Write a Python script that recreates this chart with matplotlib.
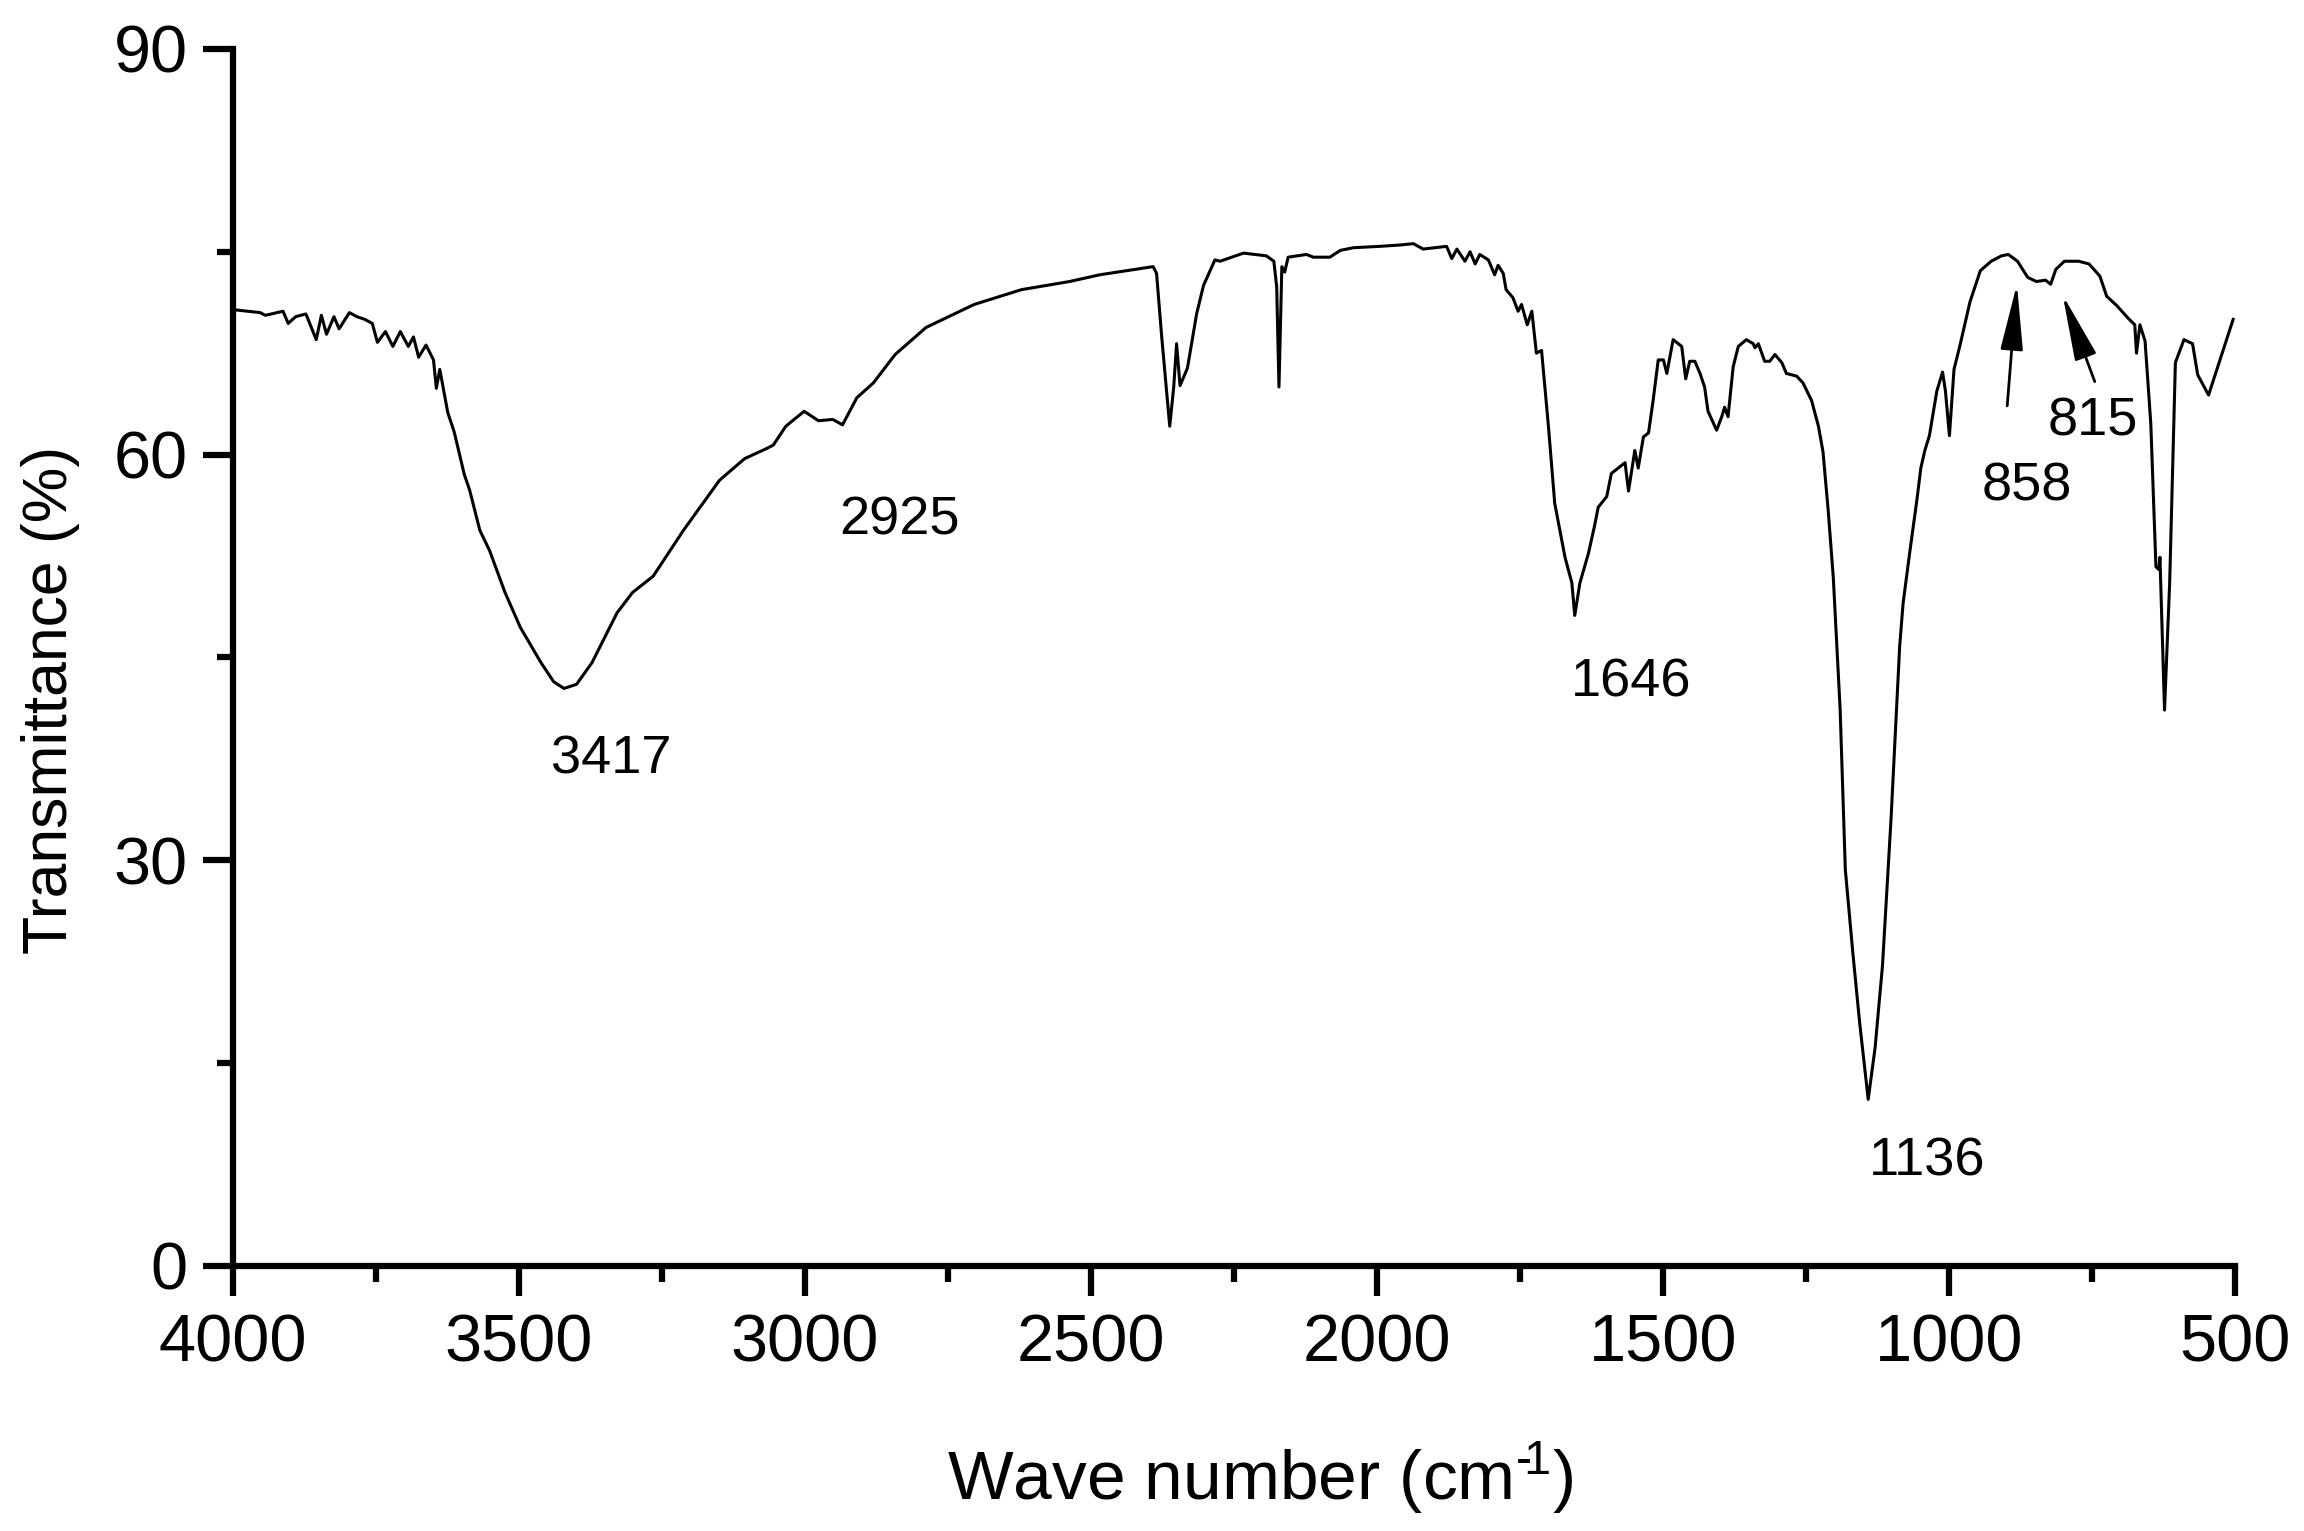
import matplotlib
matplotlib.use('Agg')
import matplotlib.pyplot as plt
from matplotlib.ticker import MultipleLocator

plt.rcParams['font.family'] = ['Liberation Sans', 'DejaVu Sans']
plt.rcParams['mathtext.fontset'] = 'custom'
plt.rcParams['mathtext.rm'] = 'Liberation Sans'
plt.rcParams['mathtext.default'] = 'regular'

# FT-IR spectrum (wave number, transmittance %)
wavenumber = [
    3995, 3952, 3943, 3912, 3903, 3890, 3872, 3854, 3845, 3836, 3823, 3814,
    3796, 3783, 3769, 3756, 3747, 3733, 3720, 3707, 3693, 3684, 3675, 3662,
    3649, 3644, 3638, 3624, 3613, 3595, 3586, 3568, 3551, 3524, 3497, 3461,
    3439, 3421, 3399, 3372, 3328, 3301, 3265, 3212, 3149, 3105, 3069, 3055,
    3033, 3001, 2976, 2951, 2934, 2909, 2880, 2842, 2788, 2704, 2621, 2537,
    2484, 2391, 2385, 2376, 2362, 2355, 2350, 2344, 2331, 2315, 2303, 2283,
    2274, 2233, 2193, 2180, 2175, 2171, 2166, 2161, 2155, 2123, 2111, 2082,
    2064, 2041, 1995, 1960, 1936, 1919, 1878, 1869, 1860, 1846, 1837, 1828,
    1820, 1805, 1794, 1788, 1779, 1774, 1762, 1753, 1747, 1737, 1729, 1721,
    1712, 1700, 1689, 1671, 1659, 1654, 1645, 1630, 1619, 1613, 1598, 1590,
    1578, 1566, 1560, 1549, 1543, 1534, 1525, 1517, 1508, 1499, 1493, 1482,
    1467, 1460, 1453, 1444, 1435, 1427, 1421, 1406, 1397, 1392, 1386, 1377,
    1368, 1354, 1342, 1339, 1333, 1322, 1313, 1304, 1292, 1284, 1266, 1255,
    1240, 1228, 1220, 1211, 1202, 1190, 1181, 1168, 1156, 1141, 1129, 1116,
    1101, 1086, 1080, 1067, 1056, 1049, 1042, 1034, 1021, 1011, 1006, 999,
    991, 981, 963, 945, 926, 908, 896, 880, 862, 847, 831, 822,
    813, 798, 773, 755, 736, 724, 706, 687, 675, 672, 666, 657,
    647, 638, 633, 631, 623, 614, 604, 589, 574, 565, 546, 533,
    503,
]
transmittance = [
    70.7, 70.5, 70.3, 70.6, 69.7, 70.2, 70.4, 68.5, 70.3, 68.9, 70.2, 69.3,
    70.5, 70.2, 70.0, 69.7, 68.3, 69.1, 68.0, 69.1, 68.0, 68.7, 67.2, 68.1,
    67.0, 64.9, 66.3, 63.1, 61.7, 58.5, 57.4, 54.4, 52.9, 49.8, 47.2, 44.6,
    43.2, 42.7, 43.0, 44.6, 48.3, 49.8, 51.0, 54.4, 58.1, 59.7, 60.4, 60.7,
    62.1, 63.2, 62.5, 62.6, 62.2, 64.2, 65.3, 67.4, 69.4, 71.1, 72.2, 72.8,
    73.3, 73.9, 73.4, 68.7, 62.1, 65.0, 68.2, 65.1, 66.4, 70.4, 72.5, 74.4,
    74.3, 74.9, 74.7, 74.3, 72.4, 65.0, 73.9, 73.5, 74.6, 74.8, 74.6, 74.6,
    75.1, 75.3, 75.4, 75.5, 75.6, 75.2, 75.4, 74.5, 75.2, 74.3, 75.0, 74.1,
    74.8, 74.4, 73.3, 74.0, 73.4, 72.2, 71.6, 70.6, 71.1, 69.6, 70.6, 67.5,
    67.7, 62.1, 56.4, 52.4, 50.5, 48.1, 50.5, 52.7, 54.8, 56.1, 56.9, 58.6,
    59.0, 59.4, 57.3, 60.3, 59.0, 61.3, 61.6, 64.0, 67.0, 67.0, 66.0, 68.5,
    68.0, 65.6, 66.9, 66.9, 66.0, 65.0, 63.2, 61.8, 62.8, 63.5, 62.8, 66.5,
    68.0, 68.5, 68.2, 67.9, 68.2, 66.9, 66.9, 67.4, 66.8, 66.0, 65.8, 65.3,
    64.0, 62.1, 60.2, 55.9, 50.9, 41.1, 29.3, 23.2, 18.0, 12.3, 16.1, 22.2,
    33.1, 45.8, 49.0, 53.2, 56.6, 59.0, 60.3, 61.4, 64.7, 66.1, 64.7, 61.4,
    66.3, 68.0, 71.3, 73.6, 74.3, 74.7, 74.8, 74.3, 73.1, 72.8, 72.9, 72.6,
    73.7, 74.3, 74.3, 74.1, 73.2, 71.7, 71.0, 70.1, 69.6, 67.5, 69.6, 68.4,
    62.3, 51.7, 51.5, 52.4, 41.1, 50.5, 66.8, 68.5, 68.2, 65.9, 64.4, 66.1,
    70.0,
]

# peak labels: text, x, y (baseline)
peak_labels = ['3417', '2925', '1646', '1136', '858', '815']
peak_label_x = [3339, 2834, 1556, 1038, 864, 748]
peak_label_y = [36.4, 54.1, 42.1, 6.65, 56.6, 61.4]

# arrows for the weak bands: tail -> head
arrow_tail = [(898, 63.6), (745, 65.4)]
arrow_head = [(881, 72.6), (801, 71.8)]

fig = plt.figure(figsize=(23.04, 15.31), dpi=100)
ax = fig.add_axes([0.1010, 0.1733, 0.8690, 0.7947])

ax.plot(wavenumber, transmittance, color='black', linewidth=2.2)

ax.set_xlim(4000, 500)
ax.set_ylim(0, 90)
ax.xaxis.set_major_locator(MultipleLocator(500))
ax.xaxis.set_minor_locator(MultipleLocator(250))
ax.yaxis.set_major_locator(MultipleLocator(30))
ax.yaxis.set_minor_locator(MultipleLocator(15))

for side in ['top', 'right']:
    ax.spines[side].set_visible(False)
for side in ['left', 'bottom']:
    ax.spines[side].set_linewidth(4.5)

ax.tick_params(axis='both', which='major', direction='out', length=21.5,
               width=4.5, labelsize=48)
ax.tick_params(axis='both', which='minor', direction='out', length=11.5,
               width=4.5)
ax.tick_params(axis='x', which='major', pad=13)
ax.tick_params(axis='y', which='major', pad=11)

ax.set_xlabel('Wave number (cm$^{\u2010\\!1}$)', fontsize=50)
ax.set_ylabel('Transmittance (%)', fontsize=45)
ax.xaxis.set_label_coords(0.513, -0.143)
ax.yaxis.set_label_coords(-0.0763, 0.465)

for lab, x, y in zip(peak_labels, peak_label_x, peak_label_y):
    ax.text(x, y, lab, fontsize=39, ha='center', va='baseline')

for tail, head in zip(arrow_tail, arrow_head):
    ax.annotate('', xy=head, xytext=tail,
                arrowprops=dict(arrowstyle='-|>,head_length=4.1,head_width=0.7',
                                mutation_scale=10, lw=2.0, color='black',
                                shrinkA=0, shrinkB=0))

fig.savefig('out.png', dpi=100)
